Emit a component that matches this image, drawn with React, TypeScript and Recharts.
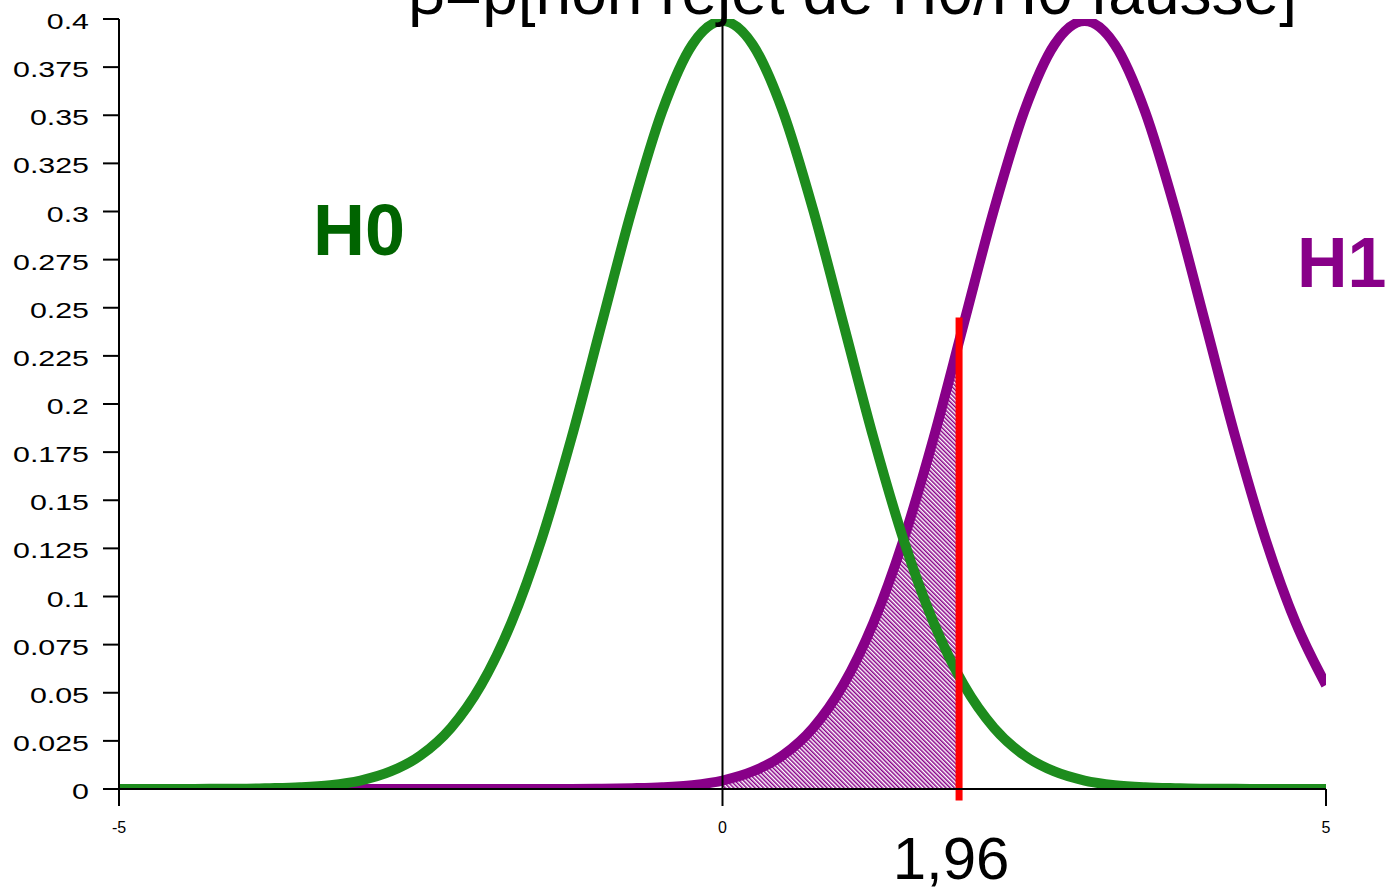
import React from 'react';
import { ComposedChart, Line, Area, XAxis, YAxis, ReferenceLine } from 'recharts';

// Sample positions along the test statistic axis
const xValues = [
  -5, -4.75, -4.5, -4.25, -4, -3.75, -3.5, -3.25, -3, -2.75, -2.5, -2.25, -2, -1.75, -1.5, -1.25, -1,
  -0.75, -0.5, -0.25, 0, 0.25, 0.5, 0.75, 1, 1.25, 1.5, 1.75, 2, 2.25, 2.5, 2.75, 3, 3.25, 3.5, 3.75,
  4, 4.25, 4.5, 4.75, 5,
];

// Density under H0 (centred on 0)
const h0Density = [
  0, 0, 0, 0.0001, 0.0001, 0.0004, 0.0009, 0.002, 0.0044, 0.0091, 0.0175, 0.0317, 0.054, 0.0863,
  0.1295, 0.1826, 0.242, 0.3011, 0.3521, 0.3867, 0.3989, 0.3867, 0.3521, 0.3011, 0.242, 0.1826,
  0.1295, 0.0863, 0.054, 0.0317, 0.0175, 0.0091, 0.0044, 0.002, 0.0009, 0.0004, 0.0001, 0.0001, 0, 0, 0,
];

// Density under H1 (centred on 3)
const h1Density = [
  0, 0, 0, 0, 0, 0, 0, 0, 0, 0, 0, 0, 0, 0, 0, 0, 0.0001, 0.0004, 0.0009, 0.002, 0.0044, 0.0091,
  0.0175, 0.0317, 0.054, 0.0863, 0.1295, 0.1826, 0.242, 0.3011, 0.3521, 0.3867, 0.3989, 0.3867,
  0.3521, 0.3011, 0.242, 0.1826, 0.1295, 0.0863, 0.054,
];

// Critical value and the beta region under H1 (from 0 up to the critical value)
const criticalValue = 1.96;
const criticalLabel = '1,96';
const criticalLineTop = 0.245;
const betaX = [0, 0.25, 0.5, 0.75, 1, 1.25, 1.5, 1.75, 1.96];
const betaDensity = [0.0044, 0.0091, 0.0175, 0.0317, 0.054, 0.0863, 0.1295, 0.1826, 0.2323];

const xTicks = [-5, 0, 5];
const yTicks = [
  0, 0.025, 0.05, 0.075, 0.1, 0.125, 0.15, 0.175, 0.2, 0.225, 0.25, 0.275, 0.3, 0.325, 0.35, 0.375, 0.4,
];

const title = 'β=p[non rejet de H0/H0 fausse]';

const h0Data = xValues.map((x, i) => ({ x, y: h0Density[i] }));
const h1Data = xValues.map((x, i) => ({ x, y: h1Density[i] }));
const betaData = betaX.map((x, i) => ({ x, y: betaDensity[i] }));

const FONT = '"Liberation Sans", Arial, sans-serif';
const GREEN = '#1d8c1d';
const PURPLE = '#880088';

const YTick = (props: any) => {
  const { x, y, payload } = props;
  return (
    <text
      x={0}
      y={0}
      dy={10}
      transform={`translate(${x},${y}) scale(1.38,1)`}
      textAnchor="end"
      fontSize={22}
      fontFamily={FONT}
      fill="#000"
    >
      {String(payload.value)}
    </text>
  );
};

const CriticalLabel = (props: any) => {
  const vb = props.viewBox || {};
  return (
    <text
      x={vb.x - 8}
      y={vb.y + vb.height + 90}
      textAnchor="middle"
      fontSize={60}
      fontFamily={FONT}
      fill="#000"
    >
      {criticalLabel}
    </text>
  );
};

export default function App() {
  return (
    <div style={{ position: 'absolute', left: 0, top: 0, width: 1385, height: 893, background: '#fff' }}>
      <ComposedChart width={1385} height={893} margin={{ top: 19, right: 59, bottom: 0, left: 0 }}>
        <defs>
          <pattern id="betaHatch" patternUnits="userSpaceOnUse" width={3} height={3} patternTransform="rotate(-45)">
            <rect x={0} y={0} width={1.5} height={3} fill={PURPLE} />
          </pattern>
        </defs>
        <XAxis
          type="number"
          dataKey="x"
          domain={[-5, 5]}
          ticks={xTicks}
          allowDataOverflow
          height={104}
          tickSize={17}
          tickMargin={16}
          axisLine={{ stroke: '#000', strokeWidth: 2 }}
          tickLine={{ stroke: '#000', strokeWidth: 2 }}
          tick={{ fontSize: 16, fill: '#000', fontFamily: FONT }}
        />
        <YAxis
          type="number"
          domain={[0, 0.4]}
          ticks={yTicks}
          allowDataOverflow
          width={119}
          tickSize={16}
          tickMargin={14}
          interval={0}
          axisLine={{ stroke: '#000', strokeWidth: 2 }}
          tickLine={{ stroke: '#000', strokeWidth: 2 }}
          tick={<YTick />}
        />
        <Area
          data={betaData}
          dataKey="y"
          type="monotone"
          stroke="none"
          fill="url(#betaHatch)"
          fillOpacity={1}
          isAnimationActive={false}
          dot={false}
          activeDot={false}
        />
        <Line
          data={h1Data}
          dataKey="y"
          type="monotone"
          stroke={PURPLE}
          strokeWidth={10}
          dot={false}
          activeDot={false}
          isAnimationActive={false}
        />
        <Line
          data={h0Data}
          dataKey="y"
          type="monotone"
          stroke={GREEN}
          strokeWidth={10}
          dot={false}
          activeDot={false}
          isAnimationActive={false}
        />
        <ReferenceLine x={0} stroke="#000" strokeWidth={2} />
        <ReferenceLine
          segment={[
            { x: criticalValue, y: -0.006 },
            { x: criticalValue, y: criticalLineTop },
          ]}
          stroke="#ff0000"
          strokeWidth={7}
          ifOverflow="visible"
        />
        <ReferenceLine x={criticalValue} stroke="none" strokeWidth={0} label={<CriticalLabel />} />
      </ComposedChart>
      <svg
        width={1385}
        height={893}
        style={{ position: 'absolute', left: 0, top: 0, pointerEvents: 'none', overflow: 'hidden' }}
      >
        <text x={408} y={14} fontSize={64} fontFamily={FONT} fill="#000">
          {title}
        </text>
        <text x={313} y={255} fontSize={72} fontWeight="bold" fontFamily={FONT} fill="#006400">
          H0
        </text>
        <text x={1297} y={287} fontSize={70} fontWeight="bold" fontFamily={FONT} fill={PURPLE}>
          H1
        </text>
      </svg>
    </div>
  );
}
